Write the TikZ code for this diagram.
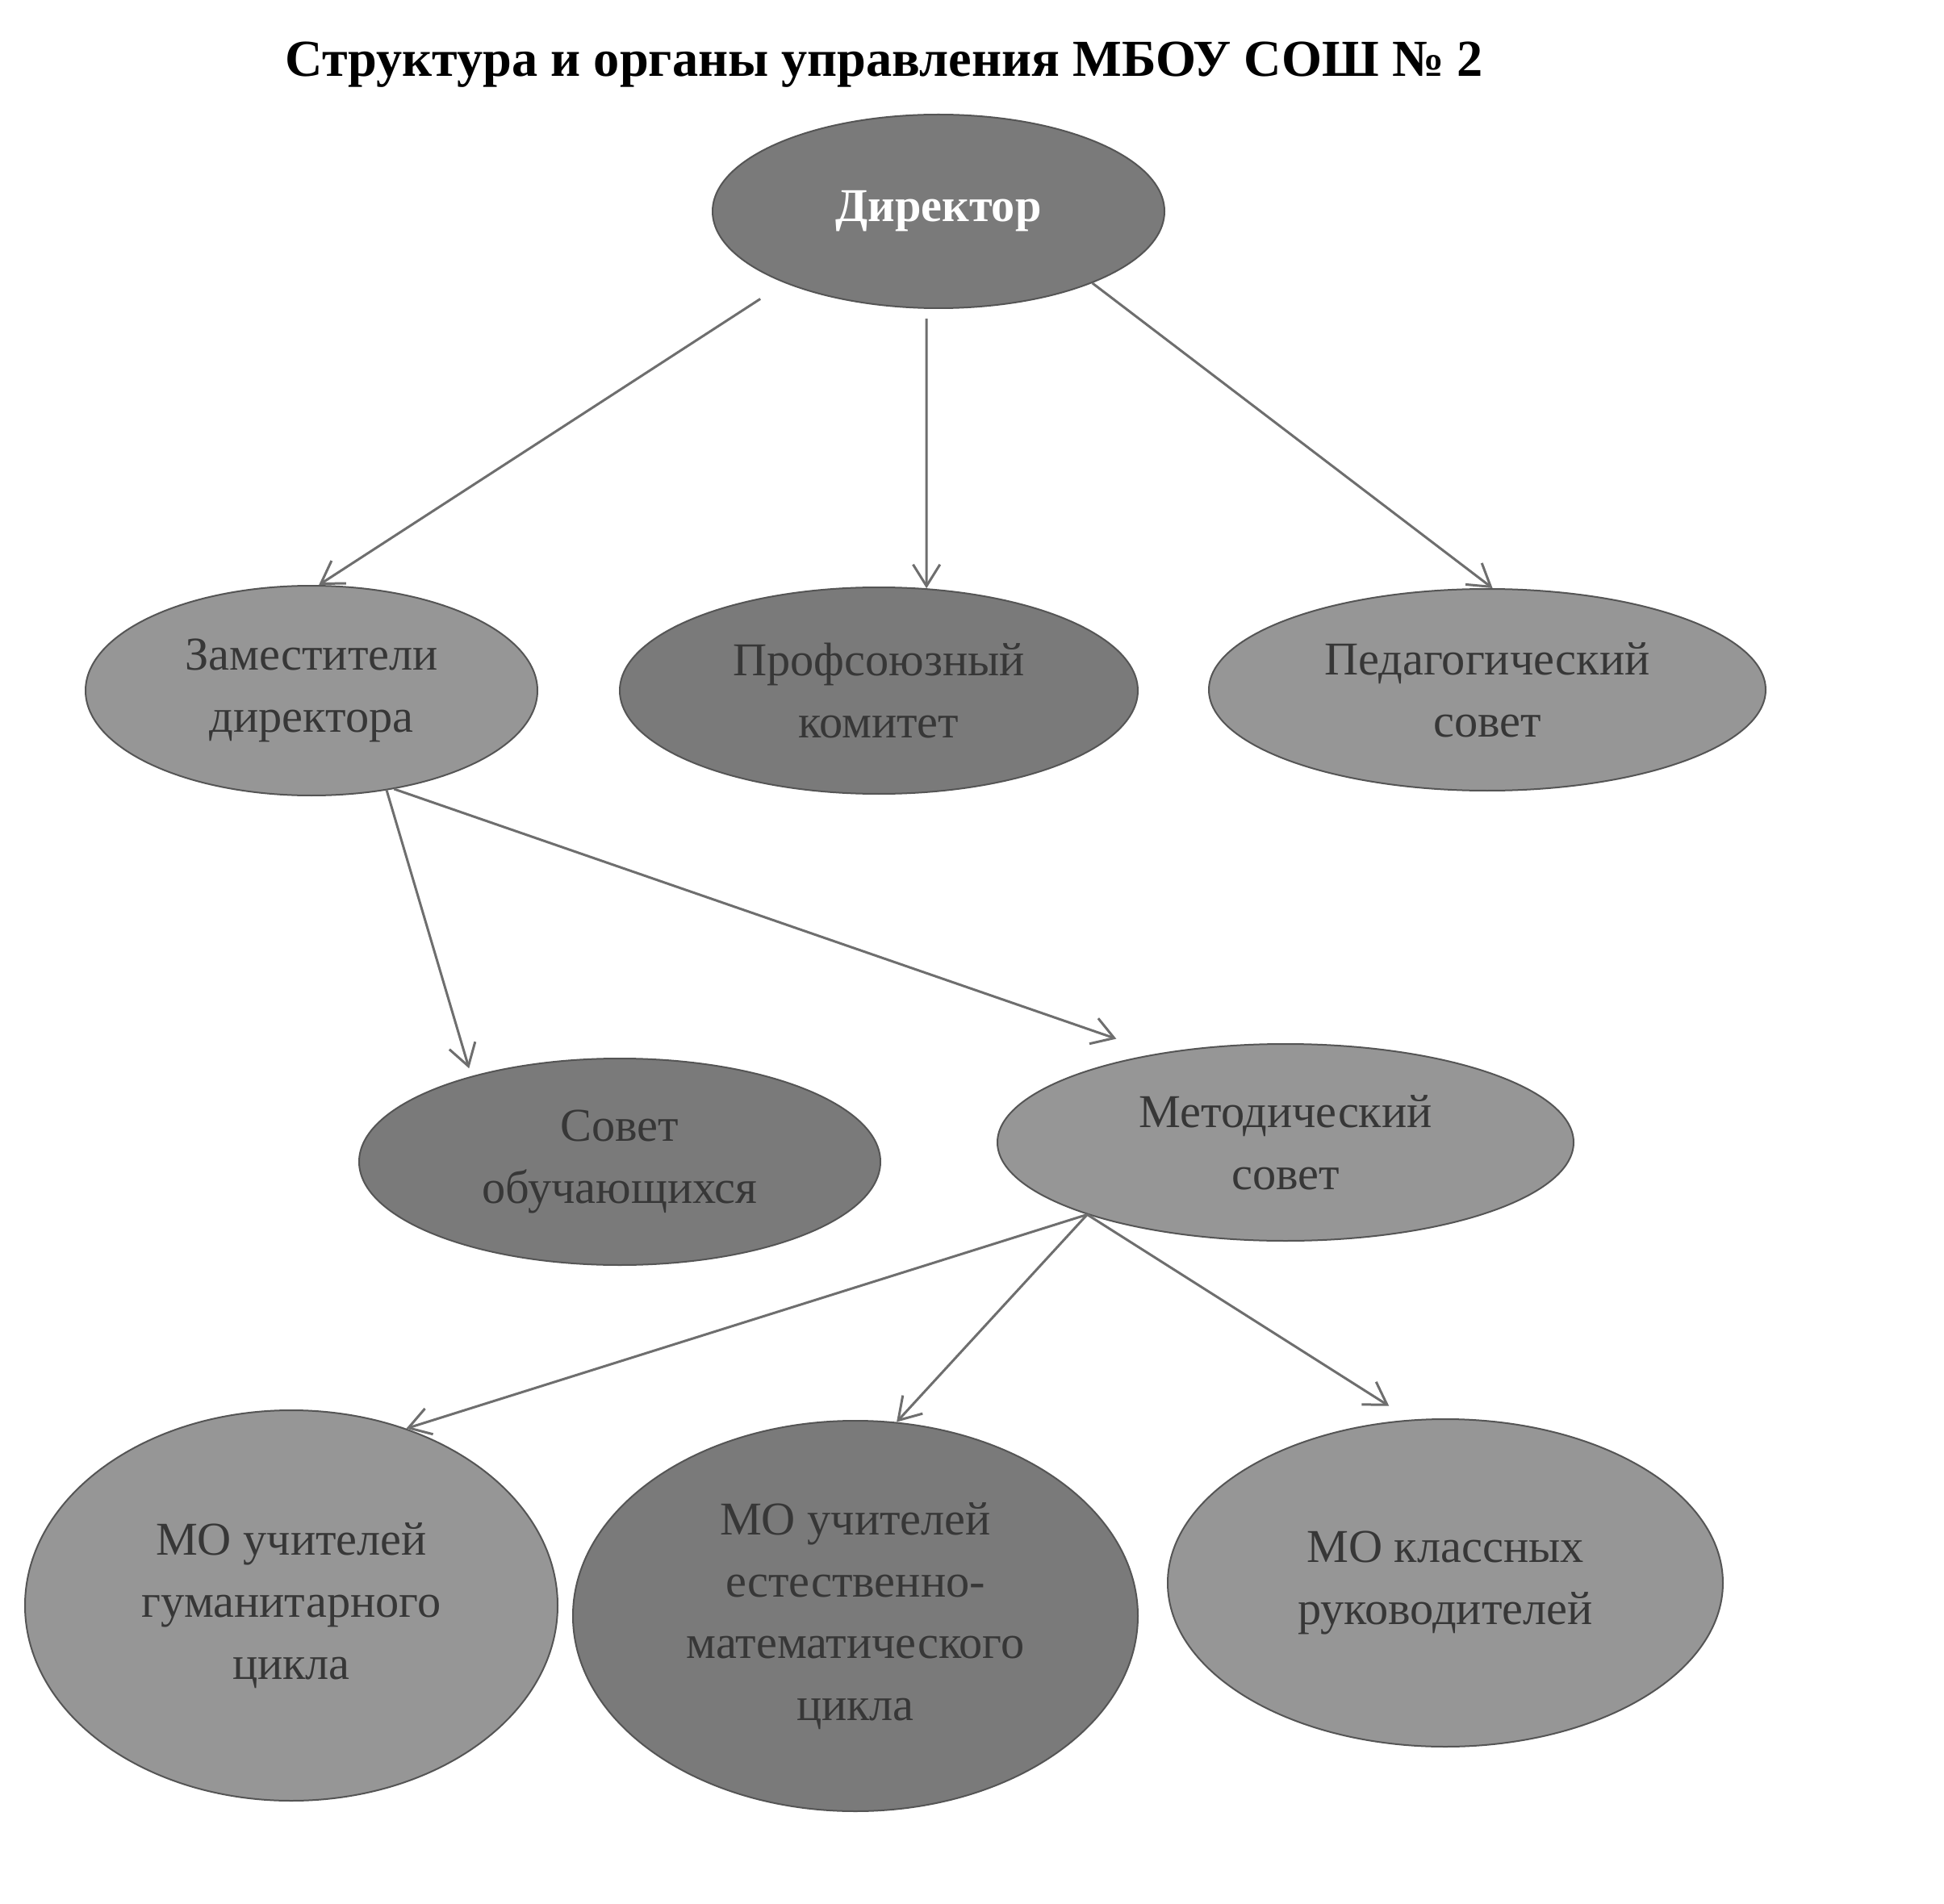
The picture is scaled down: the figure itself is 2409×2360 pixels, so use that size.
\documentclass[tikz,border=0pt]{standalone}
\usepackage{fontspec}
\setmainfont{Liberation Serif}
\usetikzlibrary{shapes.geometric,arrows.meta}

\definecolor{fillpale}{RGB}{150,150,150}
\definecolor{filldeep}{RGB}{122,122,122}
\definecolor{rimgray}{RGB}{85,85,85}
\definecolor{inkgray}{RGB}{55,55,55}
\definecolor{wiregray}{RGB}{110,110,110}

\tikzset{every picture/.style={line width=0.75pt}}
\tikzset{
  unit/.style={ellipse, draw=rimgray, line width=0.6pt, inner sep=0pt, align=center,
    text=inkgray, font=\fontsize{17.5}{23}\selectfont},
  paleunit/.style={unit, fill=fillpale},
  deepunit/.style={unit, fill=filldeep},
  link/.style={draw=wiregray, line width=0.9pt, -{Straight Barb[length=8pt,width=10pt]}}
}

\begin{document}
\begin{tikzpicture}[x=0.3pt,y=0.3pt,yscale=-1,xscale=1]
      %page frame, 2409 x 2360
      \path[use as bounding box, fill=white] (0,0) rectangle (2409,2360);

      % Text Node
      \node (title) at (1096,80) {\fontsize{19.3}{23}\selectfont\bfseries Структура и органы управления МБОУ СОШ № 2};

      %Ellipse: top
      \node (dir) at (1163,262) [deepunit, minimum width=168pt, minimum height=72pt, text=white, font=\fontsize{17.5}{23}\selectfont\bfseries] {Директор};
      %Ellipse: second row
      \node (zam) at (386,856) [paleunit, minimum width=168pt, minimum height=78pt] {Заместители\\директора};
      \node (prof) at (1089,856) [deepunit, minimum width=192.6pt, minimum height=76.8pt] {Профсоюзный\\комитет};
      \node (ped) at (1843,855) [paleunit, minimum width=207pt, minimum height=75pt] {Педагогический\\совет};
      %Ellipse: third row
      \node (sov) at (768,1440) [deepunit, minimum width=193.8pt, minimum height=76.8pt] {Совет\\обучающихся};
      \node (met) at (1593,1416) [paleunit, minimum width=214.2pt, minimum height=73.2pt] {Методический\\совет};
      %Ellipse: bottom row
      \node (hum) at (361,1990) [paleunit, minimum width=198pt, minimum height=145.2pt] {МО учителей\\гуманитарного\\цикла};
      \node (nat) at (1060,2003) [deepunit, minimum width=210pt, minimum height=145.2pt] {МО учителей\\естественно-\\математического\\цикла};
      \node (cls) at (1791,1962) [paleunit, minimum width=206.4pt, minimum height=121.8pt] {МО классных\\руководителей};

      %Straight Lines with arrows
      \draw [link, shorten <=10.8pt] (dir.205) -- (zam.86);
      \draw [link, shorten <=3.6pt] (dir.263) -- (prof.65);
      \draw [link] (dir.335) -- (ped.87);
      \draw [link, shorten >=3pt] (zam.307) -- (sov.150);
      \draw [link, shorten >=16.5pt] (zam.310) -- (met.145);
      \draw [link] (met.200) -- (hum.57);
      \draw [link] (met.200) -- (nat.78);
      \draw [link, shorten >=9.5pt] (met.200) -- (cls.102);
\end{tikzpicture}
\end{document}
